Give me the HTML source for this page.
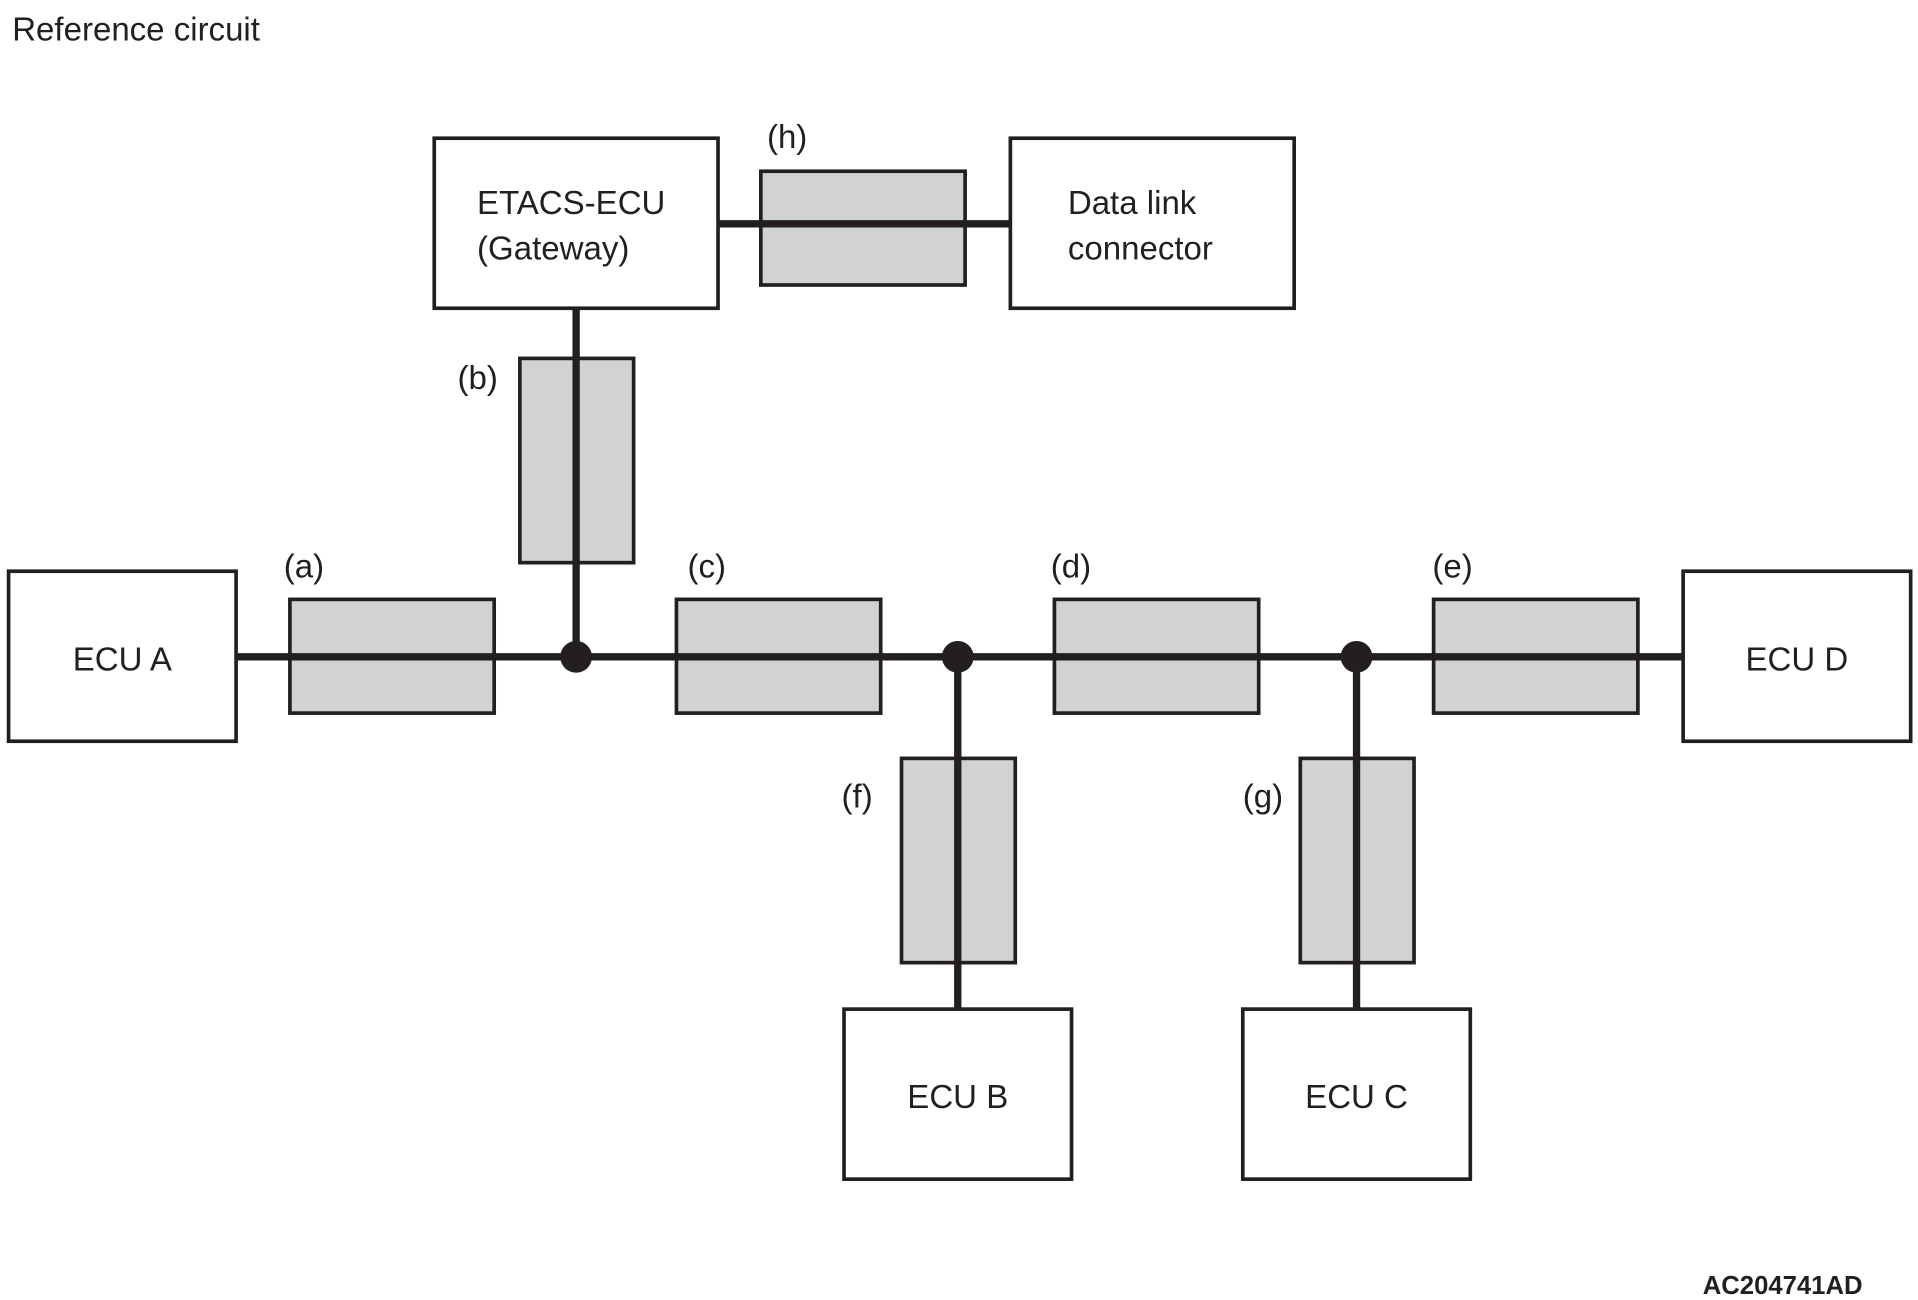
<!DOCTYPE html>
<html><head><meta charset="utf-8"><style>html,body{margin:0;padding:0;background:#fff;overflow:hidden}svg{display:block}</style></head>
<body>
<svg width="1918" height="1300" viewBox="0 0 1568 1062.8" preserveAspectRatio="none" xmlns="http://www.w3.org/2000/svg" font-family="Liberation Sans, sans-serif" fill="#231f20">
<text x="10" y="33" font-size="27">Reference circuit</text>
<g stroke="#231f20" stroke-width="3" fill="#fff">
<rect x="355" y="113" width="232" height="139"/>
<rect x="826" y="113" width="232" height="139"/>
<rect x="7" y="467" width="186" height="139"/>
<rect x="1376" y="467" width="186" height="139"/>
<rect x="690" y="825" width="186" height="139"/>
<rect x="1016" y="825" width="186" height="139"/>
</g>
<g stroke="#231f20" stroke-width="3" fill="#d1d2d4">
<rect x="622" y="140" width="167" height="93"/>
<rect x="425" y="293" width="93" height="167"/>
<rect x="237" y="490" width="167" height="93"/>
<rect x="553" y="490" width="167" height="93"/>
<rect x="862" y="490" width="167" height="93"/>
<rect x="1172" y="490" width="167" height="93"/>
<rect x="737" y="620" width="93" height="167"/>
<rect x="1063" y="620" width="93" height="167"/>
</g>
<g stroke="#231f20" stroke-width="6">
<line x1="193" y1="537" x2="1376" y2="537"/>
<line x1="587" y1="183" x2="826" y2="183"/>
<line x1="471" y1="252" x2="471" y2="537"/>
<line x1="783" y1="537" x2="783" y2="825"/>
<line x1="1109" y1="537" x2="1109" y2="825"/>
</g>
<circle cx="471" cy="537" r="13"/><circle cx="783" cy="537" r="13"/><circle cx="1109" cy="537" r="13"/>
<g font-size="27">
<text x="390" y="175">ETACS-ECU</text><text x="390" y="212">(Gateway)</text>
<text x="873" y="175">Data link</text><text x="873" y="212">connector</text>
<text x="100" y="548" text-anchor="middle">ECU A</text>
<text x="1469" y="548" text-anchor="middle">ECU D</text>
<text x="783" y="906" text-anchor="middle">ECU B</text>
<text x="1109" y="906" text-anchor="middle">ECU C</text>
<text x="627" y="121">(h)</text><text x="374" y="318">(b)</text>
<text x="232" y="472">(a)</text><text x="562" y="472">(c)</text><text x="859" y="472">(d)</text><text x="1171" y="472">(e)</text>
<text x="688" y="660">(f)</text><text x="1016" y="660">(g)</text>
</g>
<text x="1392" y="1058" font-size="21" font-weight="bold">AC204741AD</text>
</svg>
</body></html>
